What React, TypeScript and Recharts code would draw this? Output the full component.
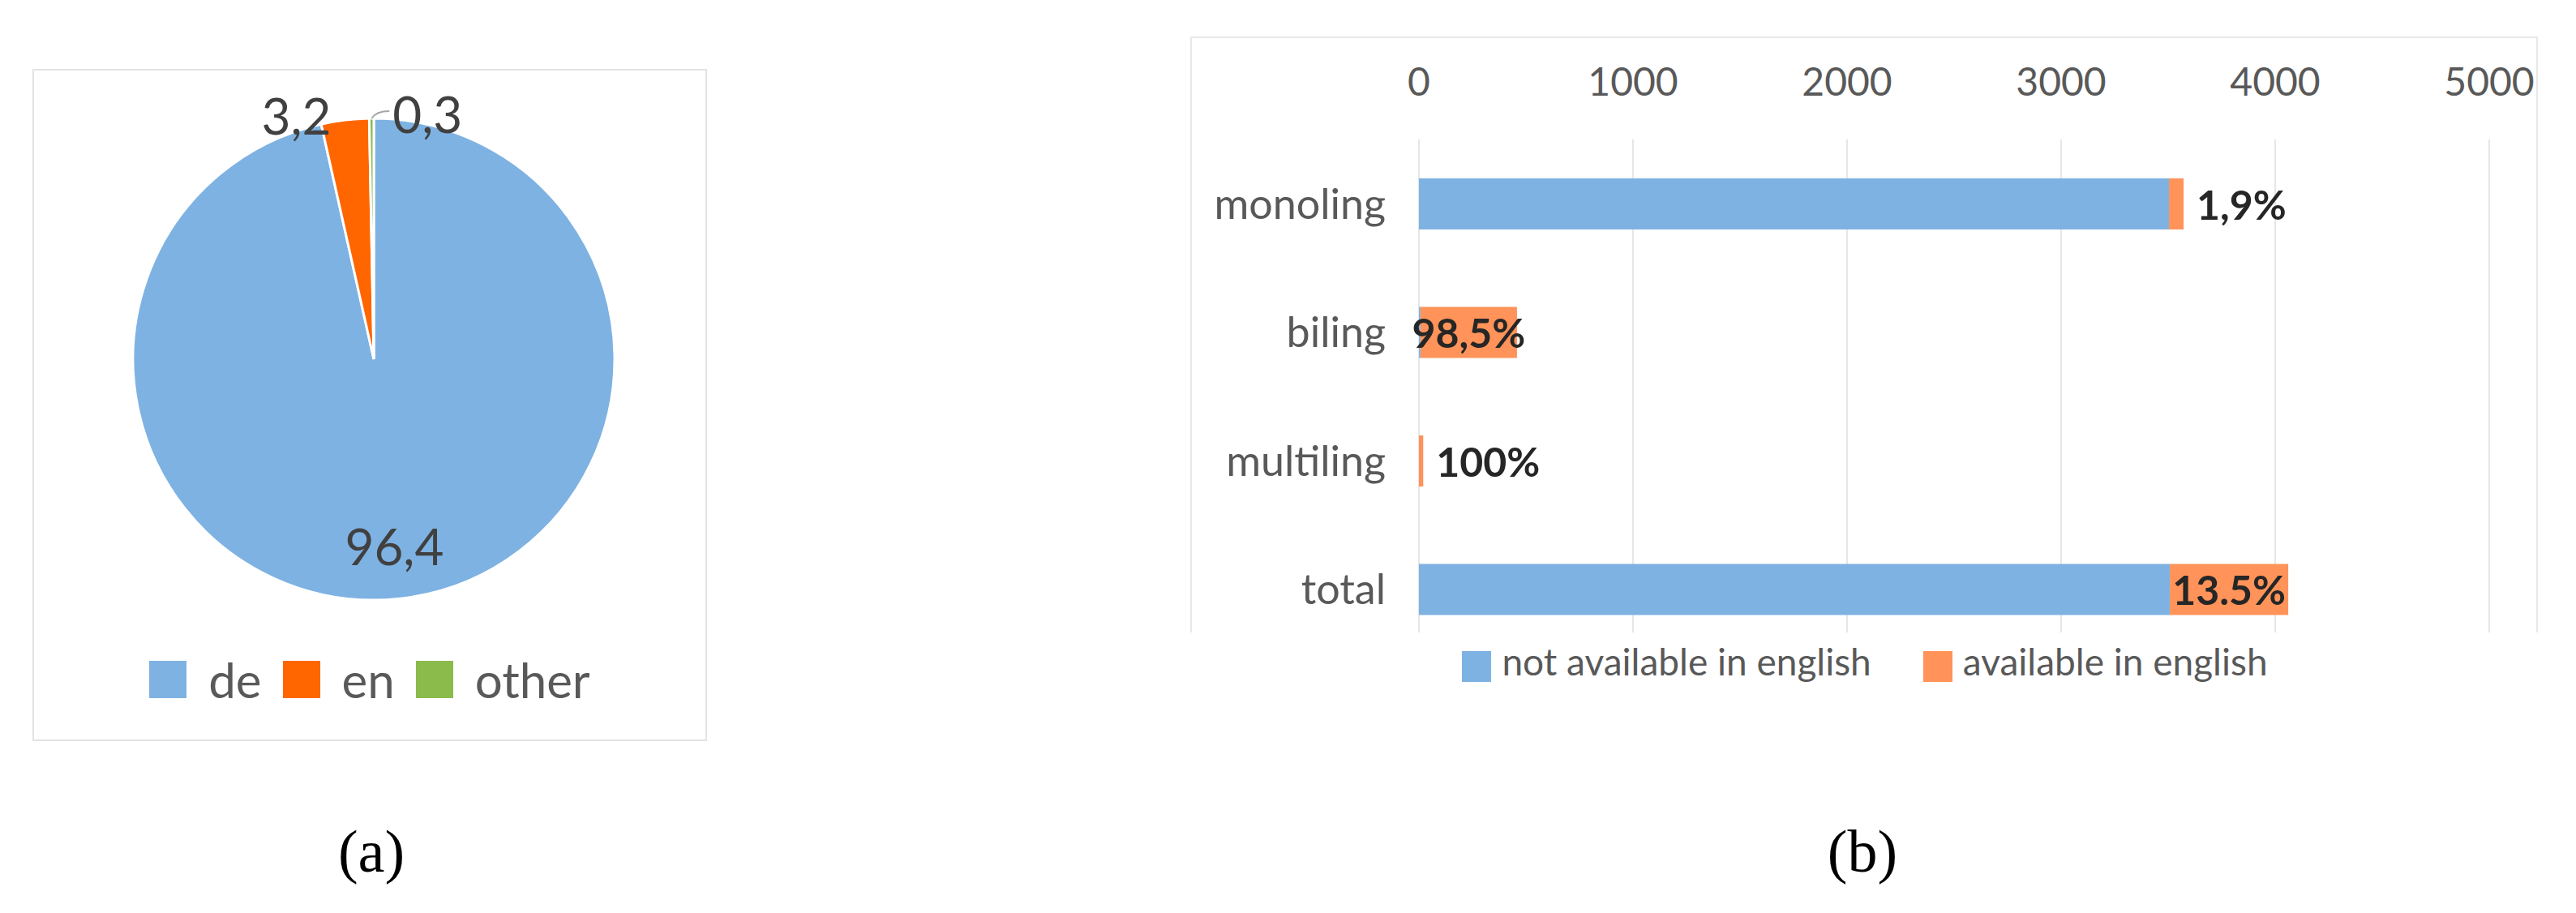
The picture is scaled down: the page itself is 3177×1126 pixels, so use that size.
import React from 'react';
import {
  PieChart,
  Pie,
  Cell,
  BarChart,
  Bar,
  XAxis,
  YAxis,
  CartesianGrid,
  Legend,
  LabelList
} from 'recharts';

// (a) language distribution, percent
const pieNames = ['de', 'en', 'other'];
const pieValues = [96.4, 3.2, 0.3];
const pieColors = ['#7EB2E2', '#FF6600', '#8BBB4B'];

// (b) availability in english, counts
const barCategories = ['monoling', 'biling', 'multiling', 'total'];
const notAvailable = [3504, 7, 0, 3508];
const available = [68, 451, 20, 553];
const shareLabels = ['1,9%', '98,5%', '100%', '13.5%'];
const xTicks = [0, 1000, 2000, 3000, 4000, 5000];
const barSeriesOrder = ['notAvailable', 'available'];

const pieData = pieNames.map((name, i) => ({ name, value: pieValues[i] }));
const barData = barCategories.map((name, i) => ({
  name,
  notAvailable: notAvailable[i],
  available: available[i],
  share: shareLabels[i]
}));

const FONT = 'Lato, "Open Sans", sans-serif';
const RADIAN = Math.PI / 180;

const renderPieLabel = (props: any) => {
  const { cx, cy, midAngle, outerRadius, percent, index } = props;
  const cos = Math.cos(-midAngle * RADIAN);
  const sin = Math.sin(-midAngle * RADIAN);
  const text = String(pieValues[index]).replace('.', ',');
  const style = { fontFamily: FONT, fontSize: 62, fill: '#404040' };
  if (percent > 0.5) {
    const r = outerRadius * 0.78;
    return (
      <text x={cx + r * cos} y={cy + r * sin} textAnchor="middle" dominantBaseline="central" style={style}>
        {text}
      </text>
    );
  }
  const px = cx + outerRadius * cos;
  const py = cy + outerRadius * sin;
  const ly = cy + outerRadius * 1.02 * sin;
  if (cos < -0.05) {
    return (
      <text x={px - 17} y={ly} textAnchor="end" dominantBaseline="central" style={style}>
        {text}
      </text>
    );
  }
  return (
    <g>
      <path d={`M${px},${py} Q${px + 6},${py - 9} ${px + 22},${py - 9}`} stroke="#a6a6a6" strokeWidth={2} fill="none" />
      <text x={px + 26} y={ly} textAnchor="start" dominantBaseline="central" style={style}>
        {text}
      </text>
    </g>
  );
};

const renderPieLegend = (props: any) => {
  const payload = [...(props.payload || [])].sort(
    (a: any, b: any) => pieNames.indexOf(a.value) - pieNames.indexOf(b.value)
  );
  return (
    <div style={{ display: 'flex', justifyContent: 'center', alignItems: 'center', fontFamily: FONT }}>
      {payload.map((entry: any, i: number) => (
        <div key={i} style={{ display: 'flex', alignItems: 'center', marginRight: i < payload.length - 1 ? 26 : 0 }}>
          <div style={{ width: 46, height: 46, background: entry.color, marginRight: 27 }} />
          <span style={{ fontSize: 60, lineHeight: 1, color: '#595959' }}>{entry.value}</span>
        </div>
      ))}
    </div>
  );
};

const renderBarLegend = (props: any) => {
  const payload = [...(props.payload || [])].sort(
    (a: any, b: any) => barSeriesOrder.indexOf(a.dataKey) - barSeriesOrder.indexOf(b.dataKey)
  );
  return (
    <div style={{ display: 'flex', justifyContent: 'center', alignItems: 'center', fontFamily: FONT }}>
      {payload.map((entry: any, i: number) => (
        <div key={i} style={{ display: 'flex', alignItems: 'center', marginRight: i < payload.length - 1 ? 64 : 0 }}>
          <div style={{ width: 36, height: 38, background: entry.color, marginRight: 13 }} />
          <span style={{ fontSize: 46, lineHeight: 1, color: '#595959', paddingBottom: 12 }}>{entry.value}</span>
        </div>
      ))}
    </div>
  );
};

const renderShareLabel = (props: any) => {
  const { x, y, width, height, value } = props;
  const narrow = width < 60;
  return (
    <text
      x={narrow ? x + width + 16 : x + width / 2}
      y={y + height / 2}
      textAnchor={narrow ? 'start' : 'middle'}
      dominantBaseline="central"
      style={{ fontFamily: FONT, fontSize: 50, fontWeight: 700, fill: '#262626' }}
    >
      {value}
    </text>
  );
};

const Caption: React.FC<{ cx: number; text: string }> = ({ cx, text }) => (
  <div
    style={{
      position: 'absolute',
      left: cx - 100,
      top: 1013,
      width: 200,
      textAlign: 'center',
      fontFamily: '"Liberation Serif", serif',
      fontSize: 74,
      lineHeight: 1,
      color: '#000'
    }}
  >
    {text}
  </div>
);

const App: React.FC = () => {
  return (
    <div style={{ position: 'absolute', left: 0, top: 0, width: 3177, height: 1126, background: '#fff', overflow: 'hidden' }}>
      {/* panel (a) */}
      <div style={{ position: 'absolute', left: 40, top: 85, width: 832, height: 829, border: '2px solid #e3e3e3', boxSizing: 'border-box' }} />
      <div style={{ position: 'absolute', left: 0, top: 0 }}>
        <PieChart width={912} height={940}>
          <Pie
            data={pieData}
            dataKey="value"
            nameKey="name"
            cx={456}
            cy={438}
            outerRadius={297}
            startAngle={90}
            endAngle={-270}
            stroke="#ffffff"
            strokeWidth={3}
            label={renderPieLabel}
            labelLine={false}
            isAnimationActive={false}
          >
            {pieData.map((d, i) => (
              <Cell key={d.name} fill={pieColors[i]} />
            ))}
          </Pie>
          <Legend
            layout="horizontal"
            verticalAlign="middle"
            align="center"
            content={renderPieLegend}
            wrapperStyle={{ left: 0, top: 808, width: 912 }}
          />
        </PieChart>
      </div>

      {/* panel (b) */}
      <div style={{ position: 'absolute', left: 1468, top: 45, width: 1662, height: 735, border: '2px solid #e8e8e8', borderBottom: 'none', boxSizing: 'border-box' }} />
      <div style={{ position: 'absolute', left: 1450, top: 0 }}>
        <BarChart
          width={1727}
          height={900}
          data={barData}
          layout="vertical"
          margin={{ top: 0, right: 107, bottom: 120, left: 0 }}
        >
          <CartesianGrid horizontal={false} stroke="#e6e6e6" strokeWidth={2} />
          <XAxis
            type="number"
            orientation="top"
            domain={[0, 5000]}
            ticks={xTicks}
            height={172}
            axisLine={false}
            tickLine={false}
            tickSize={0}
            tickMargin={54}
            tick={{ fontFamily: FONT, fontSize: 48, fill: '#595959' }}
          />
          <YAxis
            type="category"
            dataKey="name"
            width={300}
            padding={{ top: 0, bottom: -26 }}
            axisLine={false}
            tickLine={false}
            tickSize={0}
            tickMargin={41}
            tick={{ fontFamily: FONT, fontSize: 52, fill: '#595959' }}
          />
          <Bar dataKey="notAvailable" name="not available in english" stackId="a" fill="#7EB2E2" barSize={63} isAnimationActive={false} />
          <Bar dataKey="available" name="available in english" stackId="a" fill="#FF9359" barSize={63} isAnimationActive={false}>
            <LabelList dataKey="share" content={renderShareLabel} />
          </Bar>
          <Legend
            layout="horizontal"
            verticalAlign="middle"
            align="center"
            content={renderBarLegend}
            wrapperStyle={{ left: 0, top: 793, width: 1700 }}
          />
        </BarChart>
      </div>

      <Caption cx={458} text="(a)" />
      <Caption cx={2297} text="(b)" />
    </div>
  );
};

export default App;
